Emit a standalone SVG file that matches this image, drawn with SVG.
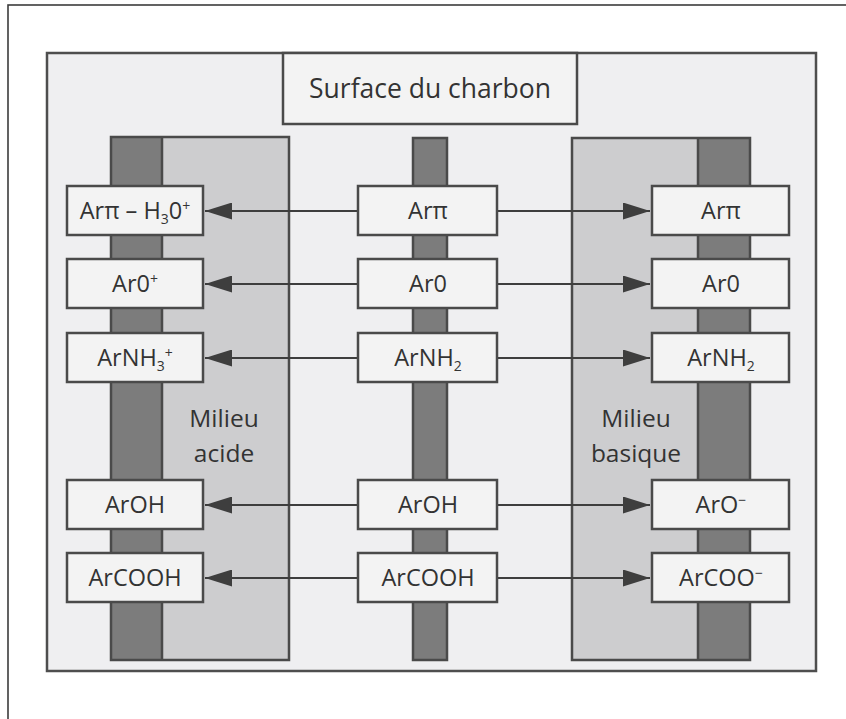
<svg xmlns="http://www.w3.org/2000/svg" width="846" height="719" viewBox="0 0 846 719">
<defs>
<style>
.frame{fill:#efeff1;stroke:#4e4e4e;stroke-width:2.5}
.box{fill:#f3f3f3;stroke:#4a4a4a;stroke-width:2.5}
.light{fill:#cdcdcf}
.dark{fill:#7c7c7c}
.outline{fill:none;stroke:#4a4a4a;stroke-width:2.5}
.lbl{font-family:"Open Sans","Noto Sans","Liberation Sans",sans-serif;fill:#333333;text-anchor:middle}
.t{font-size:23.5px}
.title{font-size:26.5px}
.mil{font-size:24.5px}
.conn{stroke:#3e3e3e;stroke-width:2.2;fill:none;marker-end:url(#ah)}
</style>
<marker id="ah" viewBox="0 0 27 17" refX="27" refY="8.5" markerWidth="27" markerHeight="17" markerUnits="userSpaceOnUse" orient="auto">
<path d="M0,0 L27,8.5 L0,17 z" fill="#3e3e3e"/>
</marker>
</defs>
<rect x="0" y="0" width="846" height="719" fill="#ffffff"/>
<rect x="8" y="5" width="860" height="740" fill="none" stroke="#3c3c3c" stroke-width="1.6"/>
<rect class="frame" x="47" y="53" width="769" height="618"/>

<g id="title">
<rect class="box" x="283" y="53" width="294" height="71"/>
<text class="lbl title" x="430" y="98">Surface du charbon</text>
</g>

<g id="panel-acide">
<rect class="light" x="162" y="137" width="127" height="523"/>
<rect class="dark" x="111" y="137" width="51" height="523"/>
<path class="outline" d="M111,137 H289 V660 H111 Z M162,137 V660"/>
<text class="lbl mil" x="224" y="427">Milieu</text>
<text class="lbl mil" x="224" y="462">acide</text>
</g>

<g id="bar-centre">
<rect class="dark" x="413" y="138" width="34" height="522" stroke="#4a4a4a" stroke-width="2.5"/>
</g>

<g id="panel-basique">
<rect class="light" x="572" y="138" width="126" height="522"/>
<rect class="dark" x="698" y="138" width="52" height="522"/>
<path class="outline" d="M572,138 H750 V660 H572 Z M698,138 V660"/>
<text class="lbl mil" x="636" y="427">Milieu</text>
<text class="lbl mil" x="636" y="462">basique</text>
</g>

<g id="connectors">
<line class="conn" x1="358" y1="211" x2="205" y2="211"/>
<line class="conn" x1="497" y1="211" x2="650" y2="211"/>
<line class="conn" x1="358" y1="284" x2="205" y2="284"/>
<line class="conn" x1="497" y1="284" x2="650" y2="284"/>
<line class="conn" x1="358" y1="358" x2="205" y2="358"/>
<line class="conn" x1="497" y1="358" x2="650" y2="358"/>
<line class="conn" x1="358" y1="505" x2="205" y2="505"/>
<line class="conn" x1="497" y1="505" x2="650" y2="505"/>
<line class="conn" x1="358" y1="578" x2="205" y2="578"/>
<line class="conn" x1="497" y1="578" x2="650" y2="578"/>
</g>

<g id="l1"><rect class="box" x="67" y="186" width="136" height="49"/>
<text class="lbl t" x="135" y="219">Arπ – H<tspan font-size="14" dy="5">3</tspan><tspan dy="-5">0</tspan><tspan font-size="14" dy="-8">+</tspan></text></g>
<g id="l2"><rect class="box" x="67" y="259" width="136" height="49"/>
<text class="lbl t" x="135" y="292">Ar0<tspan font-size="14" dy="-8">+</tspan></text></g>
<g id="l3"><rect class="box" x="67" y="333" width="136" height="49"/>
<text class="lbl t" x="135" y="366">ArNH<tspan font-size="14" dy="5">3</tspan><tspan font-size="14" dy="-13">+</tspan></text></g>
<g id="l4"><rect class="box" x="67" y="480" width="136" height="49"/>
<text class="lbl t" x="135" y="513">ArOH</text></g>
<g id="l5"><rect class="box" x="67" y="553" width="136" height="49"/>
<text class="lbl t" x="135" y="586">ArCOOH</text></g>

<g id="m1"><rect class="box" x="358" y="186" width="139" height="49"/>
<text class="lbl t" x="428" y="219">Arπ</text></g>
<g id="m2"><rect class="box" x="358" y="259" width="139" height="49"/>
<text class="lbl t" x="428" y="292">Ar0</text></g>
<g id="m3"><rect class="box" x="358" y="333" width="139" height="49"/>
<text class="lbl t" x="428" y="366">ArNH<tspan font-size="14" dy="5">2</tspan></text></g>
<g id="m4"><rect class="box" x="358" y="480" width="139" height="49"/>
<text class="lbl t" x="428" y="513">ArOH</text></g>
<g id="m5"><rect class="box" x="358" y="553" width="139" height="49"/>
<text class="lbl t" x="428" y="586">ArCOOH</text></g>

<g id="r1"><rect class="box" x="652" y="186" width="137" height="49"/>
<text class="lbl t" x="721" y="219">Arπ</text></g>
<g id="r2"><rect class="box" x="652" y="259" width="137" height="49"/>
<text class="lbl t" x="721" y="292">Ar0</text></g>
<g id="r3"><rect class="box" x="652" y="333" width="137" height="49"/>
<text class="lbl t" x="721" y="366">ArNH<tspan font-size="14" dy="5">2</tspan></text></g>
<g id="r4"><rect class="box" x="652" y="480" width="137" height="49"/>
<text class="lbl t" x="721" y="513">ArO<tspan font-size="14" dy="-8">−</tspan></text></g>
<g id="r5"><rect class="box" x="652" y="553" width="137" height="49"/>
<text class="lbl t" x="721" y="586">ArCOO<tspan font-size="14" dy="-8">−</tspan></text></g>
</svg>
